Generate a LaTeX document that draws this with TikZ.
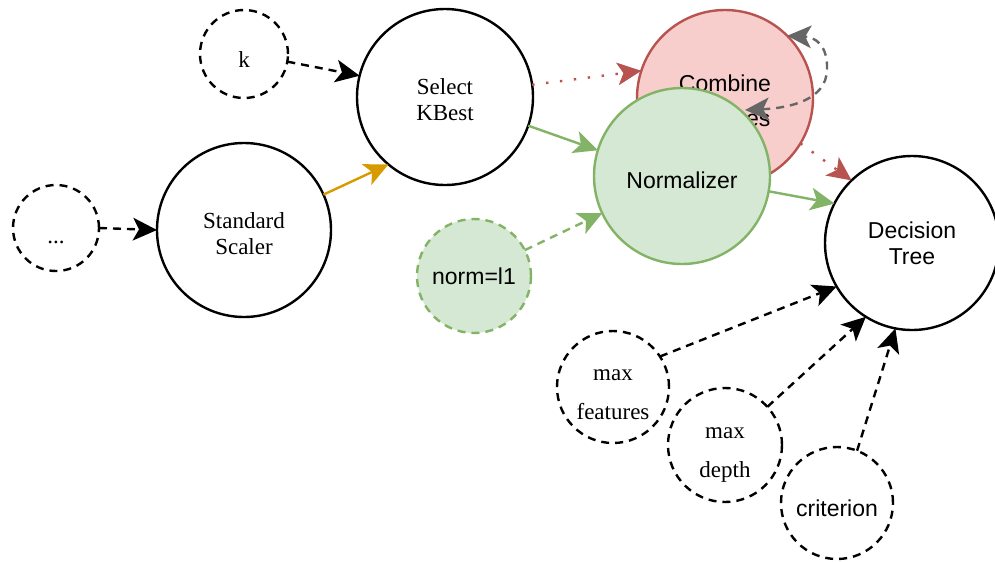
\documentclass[tikz,border=0pt]{standalone}
\usepackage{fontspec}
\setmainfont{Liberation Serif}
\setsansfont{Liberation Sans}
\usetikzlibrary{arrows.meta}
\definecolor{redS}{HTML}{B85450}
\definecolor{redF}{HTML}{F8CECC}
\definecolor{greenS}{HTML}{82B366}
\definecolor{greenF}{HTML}{D5E8D4}
\definecolor{orangeS}{HTML}{D79B00}
\definecolor{grayS}{HTML}{666666}
\newcommand{\lowtxt}[2]{\raisebox{-#1}[\height][\depth]{\begin{tabular}{@{}c@{}}#2\end{tabular}}}
\tikzset{
  circ/.style={circle, draw=black, line width=1.8pt, fill=white, inner sep=0pt, outer sep=0pt},
  dcirc/.style={circ, dashed, dash pattern=on 6pt off 4.5pt},
  serifT/.style={font=\fontsize{17.25}{19.5}\selectfont\rmfamily},
  sansT/.style={font=\fontsize{17.25}{19.5}\selectfont\sffamily},
  arrowtip/.style={-{Stealth[length=18pt, width=17pt, inset=4.5pt]}},
  conn/.style={line width=1.8pt, arrowtip},
  dashconn/.style={conn, dash pattern=on 6pt off 4.5pt},
  dotconn/.style={conn, dash pattern=on 1.8pt off 8.7pt},
}
\begin{document}
\begin{tikzpicture}[x=0.75pt, y=-0.75pt]
\useasboundingbox (0,0) rectangle (995,561);
\clip (0,0) rectangle (995,561);
% nodes
\node[dcirc, serifT, minimum size=64.5pt] (dots) at (56,228) {\lowtxt{8pt}{...}};
\node[dcirc, serifT, minimum size=66pt] (k) at (244,54) {\lowtxt{6pt}{k}};
\node[circ, serifT, minimum size=130.5pt] (ss) at (244,230) {\lowtxt{4.5pt}{Standard\\Scaler}};
\node[circ, serifT, minimum size=132pt] (sk) at (445,97) {\lowtxt{4.1pt}{Select\\KBest}};
\node[circ, draw=redS, fill=redF, font=\fontsize{17.25}{26}\selectfont\sffamily, minimum size=132pt] (comb) at (725,98) {\lowtxt{3pt}{Combine\\Features}};
\node[circ, draw=greenS, fill=greenF, sansT, minimum size=132pt] (norm) at (682,176) {\lowtxt{5.25pt}{Normalizer}};
\node[circ, sansT, minimum size=130.5pt] (dt) at (912,243) {\lowtxt{2.6pt}{Decision\\Tree}};
\node[dcirc, draw=greenS, fill=greenF, sansT, minimum size=85.5pt] (l1) at (474,276) {\lowtxt{2.75pt}{norm=l1}};
\node[dcirc, font=\fontsize{17.25}{29}\selectfont\rmfamily, minimum size=84pt] (mf) at (613,387) {\lowtxt{3.75pt}{max\\features}};
\node[dcirc, font=\fontsize{17.25}{29}\selectfont\rmfamily, minimum size=85.5pt] (md) at (725,445) {\lowtxt{4pt}{max\\depth}};
\node[dcirc, sansT, minimum size=84pt] (crit) at (837,503) {\lowtxt{6pt}{criterion}};
% connectors
\draw[dashconn] (dots.east) -- (ss.180);
\draw[dashconn] (k.-10) -- (sk.166);
\draw[conn, draw=orangeS] (ss.24) -- (sk.230);
\draw[dotconn, draw=redS] (sk.8) -- (comb.162);
\draw[conn, draw=greenS] (sk.-19) -- (norm.163);
\draw[dashconn, draw=greenS] (l1.27) -- (norm.205);
\draw[conn, draw=greenS] (norm.-10) -- (dt.153);
\draw[dotconn, draw=redS] (comb.-31) -- (dt.134);
\draw[dashconn] (mf.33) -- (dt.210);
\draw[dashconn] (md.42) -- (dt.238);
\draw[dashconn] (crit.69) -- (dt.259);
% self loop
\coordinate (loopA) at (745,110);
\draw[dashconn, draw=grayS, {Stealth[length=18pt, width=17pt, inset=4.5pt]}-{Stealth[length=18pt, width=17pt, inset=4.5pt]}] (loopA) .. controls (790,108) and (826,100) .. (827,70) .. controls (828,45) and (815,37) .. (comb.45);
\end{tikzpicture}
\end{document}
